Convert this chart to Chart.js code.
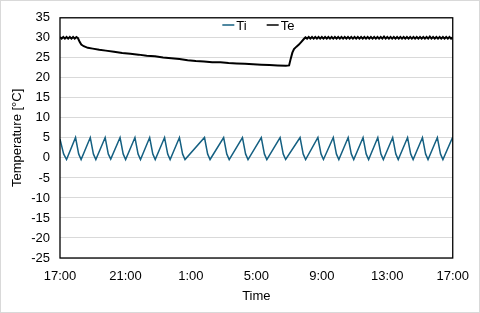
<!DOCTYPE html>
<html>
<head>
<meta charset="utf-8">
<script src="https://cdn.jsdelivr.net/npm/chart.js@4.4.1/dist/chart.umd.min.js"></script>
<style>
  body { margin: 0; background: #fff; }
  canvas { display: block; }
</style>
</head>
<body>
<canvas id="tempChart" width="480" height="313"></canvas>
<script>
// tick labels of the time axis (hours since 17:00, one every 4 h)
const xTickLabels = ['17:00', '21:00', '1:00', '5:00', '9:00', '13:00', '17:00'];

// Ti - sawtooth (peak, drop, bottom), times in hours since 17:00
const tiTime = [0, 0.22, 0.40,
  0.95, 1.14, 1.29, 1.85, 2.04, 2.19, 2.76, 2.95, 3.10, 3.67, 3.86, 4.01,
  4.58, 4.77, 4.92, 5.48, 5.67, 5.82, 6.39, 6.58, 6.73, 7.30, 7.49, 7.64,
  8.83, 9.02, 9.17, 10.0, 10.19, 10.34, 11.15, 11.34, 11.49, 12.30, 12.49, 12.64,
  13.45, 13.64, 13.79, 14.67, 14.86, 15.01, 15.76, 15.95, 16.10, 16.70, 16.89, 17.04,
  17.61, 17.80, 17.95, 18.52, 18.71, 18.86, 19.42, 19.61, 19.76, 20.33, 20.52, 20.67,
  21.24, 21.43, 21.58, 22.15, 22.34, 22.49, 23.06, 23.25, 23.40, 24.0];
const tiVal = [4.7, 1.0, -0.4,
  5.1, 1.0, -0.4, 5.1, 1.0, -0.4, 5.1, 1.0, -0.3, 5.1, 1.0, -0.4,
  5.1, 1.0, -0.4, 5.1, 1.0, -0.4, 5.1, 1.0, -0.4, 5.1, 1.0, -0.4,
  5.1, 1.0, -0.4, 5.1, 1.0, -0.4, 5.1, 1.0, -0.4, 5.1, 1.0, -0.4,
  5.1, 1.0, -0.4, 5.1, 1.0, -0.4, 5.1, 1.0, -0.4, 5.1, 1.0, -0.4,
  5.1, 1.0, -0.4, 5.1, 1.0, -0.4, 5.1, 1.0, -0.4, 5.1, 1.0, -0.4,
  5.1, 1.0, -0.4, 5.1, 1.0, -0.4, 5.1, 1.0, -0.4, 5.2];

// Te
const teTime = [0, 0.1, 0.2, 0.3, 0.4, 0.5, 0.6, 0.7, 0.8, 0.9, 1.0, 1.1,
  1.2, 1.3, 1.45, 1.7, 2.0, 2.4, 2.8, 3.3, 3.8, 4.3, 4.8, 5.3, 5.8, 6.3, 6.8, 7.3, 7.8, 8.3, 8.8,
  9.3, 9.8, 10.3, 10.8, 11.3, 11.8, 12.3, 12.8, 13.3, 13.8, 14.0,
  14.1, 14.2, 14.3, 14.45, 14.6, 14.75, 14.9, 15.0,
  15.1, 15.2, 15.3, 15.4, 15.5, 15.6, 15.7, 15.8, 15.9, 16.0,
  16.1, 16.2, 16.3, 16.4, 16.5, 16.6, 16.7, 16.8, 16.9, 17.0,
  17.1, 17.2, 17.3, 17.4, 17.5, 17.6, 17.7, 17.8, 17.9, 18.0,
  18.1, 18.2, 18.3, 18.4, 18.5, 18.6, 18.7, 18.8, 18.9, 19.0,
  19.1, 19.2, 19.3, 19.4, 19.5, 19.6, 19.7, 19.8, 19.9, 20.0,
  20.1, 20.2, 20.3, 20.4, 20.5, 20.6, 20.7, 20.8, 20.9, 21.0,
  21.1, 21.2, 21.3, 21.4, 21.5, 21.6, 21.7, 21.8, 21.9, 22.0,
  22.1, 22.2, 22.3, 22.4, 22.5, 22.6, 22.7, 22.8, 22.9, 23.0,
  23.1, 23.2, 23.3, 23.4, 23.5, 23.6, 23.7, 23.8, 23.9, 24.0];
const teVal = [30.2, 29.8, 30.2, 29.8, 30.2, 29.8, 30.2, 29.8, 30.2, 29.8, 30.2, 29.9,
  29.0, 28.3, 27.9, 27.5, 27.3, 27.0, 26.8, 26.5, 26.2, 26.0, 25.8, 25.5, 25.4, 25.1, 24.9, 24.7, 24.4, 24.2, 24.1,
  23.9, 23.9, 23.7, 23.6, 23.5, 23.4, 23.3, 23.2, 23.1, 23.0, 23.1,
  24.8, 26.3, 27.2, 27.8, 28.3, 29.0, 29.7, 30.1,
  29.8, 30.2, 29.8, 30.2, 29.8, 30.2, 29.8, 30.2, 29.8, 30.2,
  29.8, 30.2, 29.8, 30.2, 29.8, 30.2, 29.8, 30.2, 29.8, 30.2,
  29.8, 30.2, 29.8, 30.2, 29.8, 30.2, 29.8, 30.2, 29.8, 30.2,
  29.8, 30.2, 29.8, 30.2, 29.8, 30.2, 29.8, 30.2, 29.8, 30.2,
  29.8, 30.2, 29.8, 30.2, 29.8, 30.2, 29.8, 30.3, 29.8, 30.2,
  29.8, 30.2, 29.8, 30.2, 29.8, 30.2, 29.8, 30.2, 29.8, 30.2,
  29.8, 30.2, 29.8, 30.2, 29.8, 30.2, 29.8, 30.2, 29.8, 30.2,
  29.8, 30.2, 29.8, 30.2, 29.8, 30.3, 29.8, 30.2, 29.8, 30.2,
  29.8, 30.2, 29.8, 30.2, 29.8, 30.2, 29.8, 30.2, 29.8, 30.1];

const FONT = '"Liberation Sans", Arial, sans-serif';
const TEXT = '#000';

// fond blanc + cadre gris autour de l'image + cadre noir de la zone de tracé + légende
const chartDecor = {
  id: 'chartDecor',
  beforeDraw(chart) {
    const ctx = chart.ctx;
    ctx.save();
    ctx.fillStyle = '#fff';
    ctx.fillRect(0, 0, chart.width, chart.height);
    ctx.restore();
  },
  afterDraw(chart) {
    const { ctx, chartArea: a } = chart;
    ctx.save();
    ctx.strokeStyle = '#000';
    ctx.lineWidth = 1.3;
    ctx.strokeRect(a.left, a.top, a.right - a.left, a.bottom - a.top);

    ctx.strokeStyle = '#d9d9d9';
    ctx.lineWidth = 1;
    ctx.strokeRect(0.5, 0.5, chart.width - 1, chart.height - 1);

    // légende
    ctx.font = '13px ' + FONT;
    ctx.textBaseline = 'middle';
    const lineLen = 12, gap = 2, spacing = 20;
    const items = chart.data.datasets.map(ds => ({ label: ds.label, color: ds.borderColor, w: ctx.measureText(ds.label).width }));
    let total = 0;
    items.forEach((it, i) => { total += lineLen + gap + it.w + (i ? spacing : 0); });
    let x = (a.left + a.right) / 2 - total / 2 + 2;
    const y = 26;
    items.forEach(it => {
      ctx.strokeStyle = it.color;
      ctx.lineWidth = 1.5;
      ctx.beginPath();
      ctx.moveTo(x, y - 1);
      ctx.lineTo(x + lineLen, y - 1);
      ctx.stroke();
      ctx.fillStyle = TEXT;
      ctx.fillText(it.label, x + lineLen + gap, y);
      x += lineLen + gap + it.w + spacing;
    });
    ctx.restore();
  }
};

new Chart(document.getElementById('tempChart'), {
  type: 'line',
  data: {
    datasets: [{
      label: 'Ti',
      data: tiTime.map((t, i) => ({ x: t, y: tiVal[i] })),
      borderColor: '#156082',
      borderWidth: 1.5,
      pointRadius: 0,
      tension: 0
    }, {
      label: 'Te',
      data: teTime.map((t, i) => ({ x: t, y: teVal[i] })),
      borderColor: '#000000',
      borderWidth: 2,
      pointRadius: 0,
      tension: 0
    }]
  },
  options: {
    responsive: false,
    animation: false,
    devicePixelRatio: 1,
    layout: { padding: { left: 0, right: 24, top: 12, bottom: 0 } },
    plugins: {
      legend: { display: false },
      tooltip: { enabled: false }
    },
    scales: {
      x: {
        type: 'linear',
        min: 0,
        max: 24,
        grid: { display: false, drawTicks: false },
        border: { display: false },
        ticks: {
          stepSize: 4,
          autoSkip: false,
          maxRotation: 0,
          padding: 11,
          color: TEXT,
          font: { family: FONT, size: 13 },
          callback: (v, i) => xTickLabels[i]
        },
        title: {
          display: true,
          text: 'Time',
          color: TEXT,
          font: { family: FONT, size: 13 },
          padding: { top: 0, bottom: 9 }
        },
        afterFit: scale => { scale.height = 55; }
      },
      y: {
        min: -25,
        max: 35,
        grid: { color: '#d9d9d9', lineWidth: 1, drawTicks: false },
        border: { display: false },
        ticks: {
          stepSize: 5,
          padding: 10,
          color: TEXT,
          font: { family: FONT, size: 13 }
        },
        title: {
          display: true,
          text: 'Temperature [°C]',
          color: TEXT,
          font: { family: FONT, size: 13 },
          padding: { top: 10, bottom: 0 }
        },
        afterFit: scale => { scale.width = 60; }
      }
    }
  },
  plugins: [chartDecor]
});
</script>
</body>
</html>
